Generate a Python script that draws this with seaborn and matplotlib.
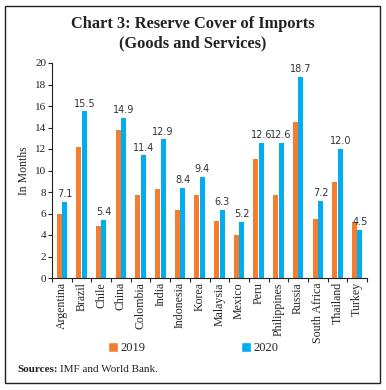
import matplotlib
matplotlib.use("Agg")
import matplotlib.pyplot as plt
import seaborn as sns
import pandas as pd
from matplotlib.patches import Rectangle, Patch

countries = ["Argentina", "Brazil", "Chile", "China", "Colombia", "India", "Indonesia",
             "Korea", "Malaysia", "Mexico", "Peru", "Philippines", "Russia",
             "South Africa", "Thailand", "Turkey"]
v2019 = [6.0, 12.2, 4.8, 13.8, 7.7, 8.3, 6.3, 7.7, 5.3, 4.0, 11.1, 7.7, 14.5, 5.5, 8.9, 5.2]
v2020 = [7.1, 15.5, 5.4, 14.9, 11.4, 12.9, 8.4, 9.4, 6.3, 5.2, 12.6, 12.6, 18.7, 7.2, 12.0, 4.5]
years = ["2019", "2020"]
colors = ["#F47D30", "#00AEEF"]

df = pd.DataFrame({
    "Country": countries * 2,
    "Year": [years[0]] * len(countries) + [years[1]] * len(countries),
    "Value": v2019 + v2020,
})

sns.set_style("white")
plt.rcParams["font.family"] = ["Liberation Serif", "DejaVu Serif"]

fig = plt.figure(figsize=(3.86, 3.90), dpi=100)
ax = fig.add_axes([52/386, 1-278/390, (367-52)/386, (278-63)/390])

sns.barplot(data=df, x="Country", y="Value", hue="Year", palette=colors,
            width=0.56, gap=0.1, ax=ax, legend=False, saturation=1, linewidth=0)

cont = ax.containers[1]
ax.bar_label(cont, labels=[f"{v:.1f}" for v in v2020], padding=2,
             fontsize=7, family="DejaVu Sans", color="#333333")

ax.set_ylim(0, 20)
ax.set_xlim(-0.5, len(countries) - 0.5)
ax.set_yticks(range(0, 21, 2))
ax.tick_params(axis="y", labelsize=8, length=3, width=0.8, pad=1, colors="#222222", direction="out", left=True)
ax.set_xticks(range(len(countries)))
ax.set_xticklabels(countries, rotation=90, fontsize=8.6)
ax.tick_params(axis="x", which="major", length=0, pad=3)
ax.set_xticks([i - 0.5 for i in range(len(countries) + 1)], minor=True)
ax.tick_params(axis="x", which="minor", length=3, width=0.8, bottom=True, direction="out")
ax.set_xlabel("")
ax.set_ylabel("In Months", fontsize=8.5, labelpad=4)

for s in ["top", "right"]:
    ax.spines[s].set_visible(False)
for s in ["left", "bottom"]:
    ax.spines[s].set_color("#222222")
    ax.spines[s].set_linewidth(0.8)

handles = [Patch(facecolor=c, label=y) for c, y in zip(colors, years)]
fig.legend(handles=handles, loc="center", bbox_to_anchor=(0.5, 1-348/390), ncol=2,
           frameon=False, fontsize=9, handlelength=0.8, handleheight=0.8,
           handletextpad=0.2, columnspacing=7.6)

fig.text(0.5, 1-24/390, "Chart 3: Reserve Cover of Imports", ha="center", va="center",
         fontsize=11.8, fontweight="bold", color="#222222")
fig.text(0.5, 1-43/390, "(Goods and Services)", ha="center", va="center",
         fontsize=11.8, fontweight="bold", color="#222222")

t = fig.text(17/386, 1-369/390, "Sources:", ha="left", va="center", fontsize=8,
             fontweight="bold", color="#222222")
fig.canvas.draw()
bb = t.get_window_extent(renderer=fig.canvas.get_renderer())
fig.text(bb.x1 / fig.bbox.width + 3/386, 1-369/390, "IMF and World Bank.", ha="left",
         va="center", fontsize=8, color="#222222")

fig.patches.append(Rectangle((5/386, 1-383/390), (380-5)/386, (383-6)/390,
                             transform=fig.transFigure, fill=False,
                             edgecolor="#222222", linewidth=1.0))

fig.savefig("out.png", dpi=100)
